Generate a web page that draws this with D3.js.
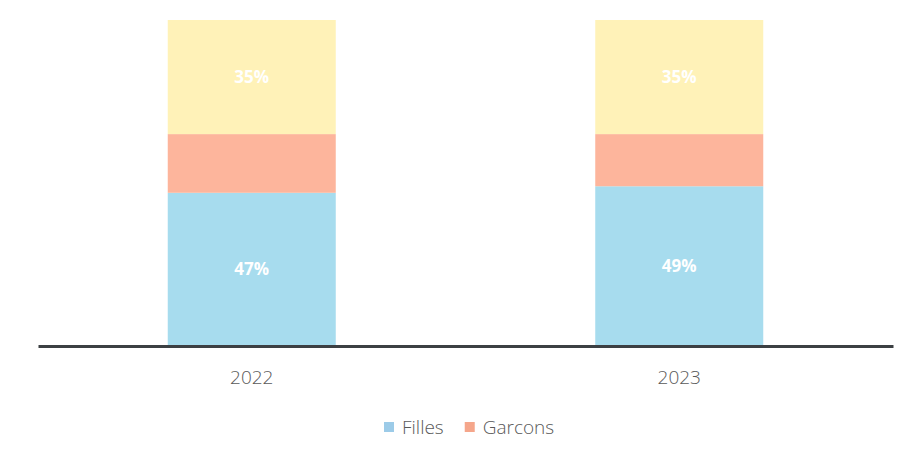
<!DOCTYPE html>
<html>
<head>
<meta charset="utf-8">
<script src="https://cdn.jsdelivr.net/npm/d3@7.9.0/dist/d3.min.js"></script>
<style>
  body { margin: 0; background: #fff; }
  svg { display: block; font-family: 'Open Sans', sans-serif; }
</style>
</head>
<body>
<svg id="chart" width="905" height="462"></svg>
<script>
const years = ['2022', '2023'];
const filles = [0.47, 0.49];
const garcons = [0.18, 0.16];
const autres = [0.35, 0.35];
const labelsFilles = ['47%', '49%'];
const labelsAutres = ['35%', '35%'];

const series = [
  { key: 'Filles', values: filles, color: '#a7dcee', labels: labelsFilles, legend: '#9ccbe8' },
  { key: 'Garcons', values: garcons, color: '#fdb59c', labels: null, legend: '#f5a68b' },
  { key: 'Autres', values: autres, color: '#fff2b8', labels: labelsAutres, legend: null },
];

const svg = d3.select('#chart');
const x = d3.scaleBand().domain(years).range([38, 893]).padding(0);
const y = d3.scaleLinear().domain([0, 1]).range([346, 20]);
const barW = x.bandwidth() * 0.393;

// stacked bars
years.forEach((yr, i) => {
  let base = 0;
  const cx = x(yr) + x.bandwidth() / 2;
  series.forEach((s) => {
    const v = s.values[i];
    svg.append('rect')
      .attr('x', cx - barW / 2)
      .attr('y', y(base + v))
      .attr('width', barW)
      .attr('height', y(base) - y(base + v))
      .attr('fill', s.color);
    if (s.labels) {
      svg.append('text')
        .attr('x', cx)
        .attr('y', y(base + v / 2))
        .attr('dy', '0.35em')
        .attr('text-anchor', 'middle')
        .attr('fill', '#fff')
        .attr('font-size', 17)
        .attr('font-weight', 'bold')
        .text(s.labels[i]);
    }
    base += v;
  });
});

// axis line + labels
const axis = svg.append('g').attr('transform', `translate(0,${y(0)})`)
  .call(d3.axisBottom(x).tickSize(0).tickPadding(25));
axis.select('.domain').attr('stroke', '#3c4043').attr('stroke-width', 3);
axis.selectAll('text').attr('font-size', 19).attr('fill', '#595959')
  .attr('font-family', "'Open Sans', sans-serif").attr('font-weight', 300);

// legend
const legendItems = series.filter((s) => s.legend);
const legend = svg.append('g').attr('transform', 'translate(384,427)');
let lx = 0;
legendItems.forEach((s) => {
  legend.append('rect').attr('x', lx).attr('y', -5).attr('width', 10).attr('height', 10).attr('fill', s.legend);
  const t = legend.append('text').attr('x', lx + 18).attr('y', 0).attr('dy', '0.35em')
    .attr('font-size', 19).attr('font-weight', 300).attr('fill', '#595959').text(s.key);
  lx += 18 + t.node().getComputedTextLength() + 21;
});
</script>
</body>
</html>
